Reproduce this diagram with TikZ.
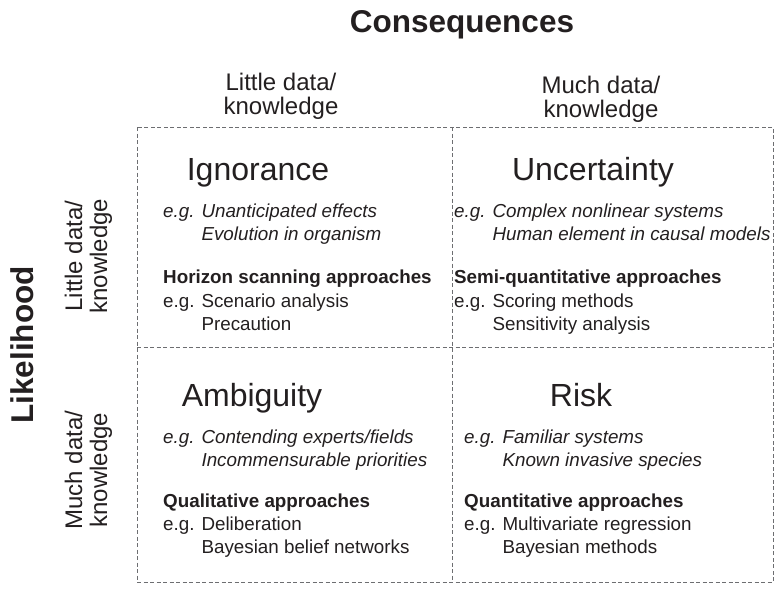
\documentclass[tikz,border=0pt]{standalone}
\usepackage{fontspec}
\setmainfont{Liberation Sans}
\definecolor{tcol}{HTML}{231F20}
\definecolor{lcol}{HTML}{6D6E71}
\begin{document}
\begin{tikzpicture}[x=1pt,y=-1pt,
  grid/.style={draw=lcol, line width=0.9pt, dash pattern=on 4pt off 2.5pt},
  body/.style={inner sep=0pt, text=tcol, font=\fontsize{18.8}{22}\selectfont, anchor=base west},
  bodyit/.style={body, font=\fontsize{18.8}{22}\selectfont\itshape},
  bodybf/.style={body, font=\fontsize{18.8}{22}\selectfont\bfseries},
  head/.style={inner sep=0pt, text=tcol, font=\fontsize{32}{36}\selectfont, anchor=base},
  axis/.style={inner sep=0pt, text=tcol, font=\fontsize{31.5}{34}\selectfont\bfseries, anchor=base},
  lab/.style={inner sep=0pt, text=tcol, font=\fontsize{24}{26}\selectfont, anchor=base}]
\useasboundingbox (0,0) rectangle (775,589);
% grid
\coordinate (tl) at (137,127);
\coordinate (br) at (773,582);
\coordinate (vt) at (452,127);
\coordinate (vb) at (452,582);
\coordinate (hl) at (137,347);
\coordinate (hr) at (773,347);
\draw[grid] (tl) rectangle (br);
\draw[grid] (vt) -- (vb);
\draw[grid] (hl) -- (hr);
% axis titles
\node[axis] (cons) at (462,32) {Consequences};
\node[axis, rotate=90] (like) at (33,345) {Likelihood};
% column labels
\node[lab] (c1a) at (281,90) {Little data/};
\node[lab] (c1b) at (281,114) {knowledge};
\node[lab] (c2a) at (601,93) {Much data/};
\node[lab] (c2b) at (601,117) {knowledge};
% row labels
\node[lab, rotate=90] (r1a) at (82,256) {Little data/};
\node[lab, rotate=90] (r1b) at (107,256) {knowledge};
\node[lab, rotate=90] (r2a) at (82,470) {Much data/};
\node[lab, rotate=90] (r2b) at (107,470) {knowledge};
% Ignorance
\node[head] (ign) at (258,180) {Ignorance};
\node[bodyit] (ign1) at (163,217) {e.g. Unanticipated effects};
\node[bodyit] (ign2) at (163,240) {\hphantom{e.g. }Evolution in organism};
\node[bodybf] (ign3) at (163,283) {Horizon scanning approaches};
\node[body] (ign4) at (163,307) {e.g. Scenario analysis};
\node[body] (ign5) at (163,330) {\hphantom{e.g. }Precaution};
% Uncertainty
\node[head] (unc) at (593,180) {Uncertainty};
\node[bodyit] (unc1) at (454,217) {e.g. Complex nonlinear systems};
\node[bodyit] (unc2) at (454,240) {\hphantom{e.g. }Human element in causal models};
\node[bodybf] (unc3) at (454,283) {Semi-quantitative approaches};
\node[body] (unc4) at (454,307) {e.g. Scoring methods};
\node[body] (unc5) at (454,330) {\hphantom{e.g. }Sensitivity analysis};
% Ambiguity
\node[head] (amb) at (252,406) {Ambiguity};
\node[bodyit] (amb1) at (163,443) {e.g. Contending experts/fields};
\node[bodyit] (amb2) at (163,466) {\hphantom{e.g. }Incommensurable priorities};
\node[bodybf] (amb3) at (163,507) {Qualitative approaches};
\node[body] (amb4) at (163,530) {e.g. Deliberation};
\node[body] (amb5) at (163,553) {\hphantom{e.g. }Bayesian belief networks};
% Risk
\node[head] (risk) at (581,406) {Risk};
\node[bodyit] (risk1) at (464,443) {e.g. Familiar systems};
\node[bodyit] (risk2) at (464,466) {\hphantom{e.g. }Known invasive species};
\node[bodybf] (risk3) at (464,507) {Quantitative approaches};
\node[body] (risk4) at (464,530) {e.g. Multivariate regression};
\node[body] (risk5) at (464,553) {\hphantom{e.g. }Bayesian methods};
\end{tikzpicture}
\end{document}
